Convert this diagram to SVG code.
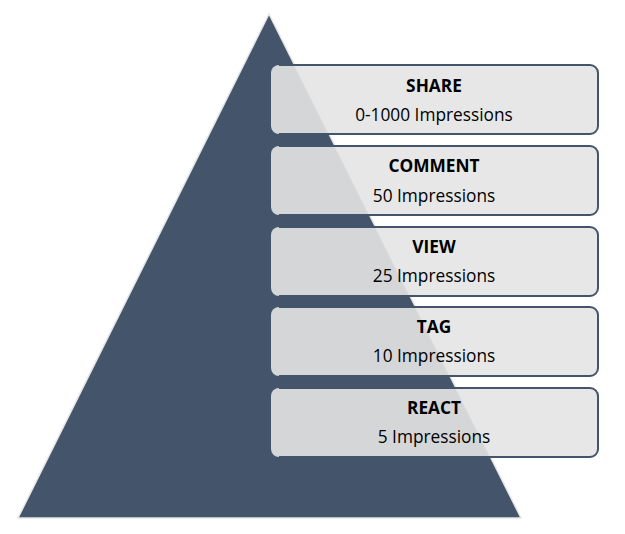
<svg xmlns="http://www.w3.org/2000/svg" width="625" height="534" viewBox="0 0 625 534">
<style>
.bx{fill:#E4E4E4;fill-opacity:0.9}
.ed{fill:none;stroke:#44546A;stroke-width:2}
.t{font-family:"Open Sans","Liberation Sans",sans-serif;font-size:17.3px;fill:#000;text-anchor:middle}
.b{font-weight:bold}
</style>
<defs>
<path id="edge" d="M 279 0 H 590 A 8 8 0 0 1 598 8 V 61 A 8 8 0 0 1 590 69 H 279"/>
</defs>
<rect width="625" height="534" fill="#fff"/>
<polygon id="pyramid" points="269,14 18,518 521,518" fill="#44546A" stroke="#E6E6E6" stroke-width="1.5"/>
<g id="connectors"></g>
<g id="share">
<rect class="bx" x="271" y="65" width="327" height="69" rx="8"/>
<use href="#edge" class="ed" y="65"/>
<text class="t b" x="434" y="92">SHARE</text>
<text class="t" x="434" y="121">0-1000 Impressions</text>
</g>
<g id="comment">
<rect class="bx" x="271" y="146" width="327" height="69" rx="8"/>
<use href="#edge" class="ed" y="146"/>
<text class="t b" x="434" y="172">COMMENT</text>
<text class="t" x="434" y="202">50 Impressions</text>
</g>
<g id="view">
<rect class="bx" x="271" y="227" width="327" height="69" rx="8"/>
<use href="#edge" class="ed" y="227"/>
<text class="t b" x="434" y="253">VIEW</text>
<text class="t" x="434" y="282">25 Impressions</text>
</g>
<g id="tag">
<rect class="bx" x="271" y="307" width="327" height="69" rx="8"/>
<use href="#edge" class="ed" y="307"/>
<text class="t b" x="434" y="333">TAG</text>
<text class="t" x="434" y="362">10 Impressions</text>
</g>
<g id="react">
<rect class="bx" x="271" y="388" width="327" height="69" rx="8"/>
<use href="#edge" class="ed" y="388"/>
<text class="t b" x="434" y="414">REACT</text>
<text class="t" x="434" y="443">5 Impressions</text>
</g>
</svg>
